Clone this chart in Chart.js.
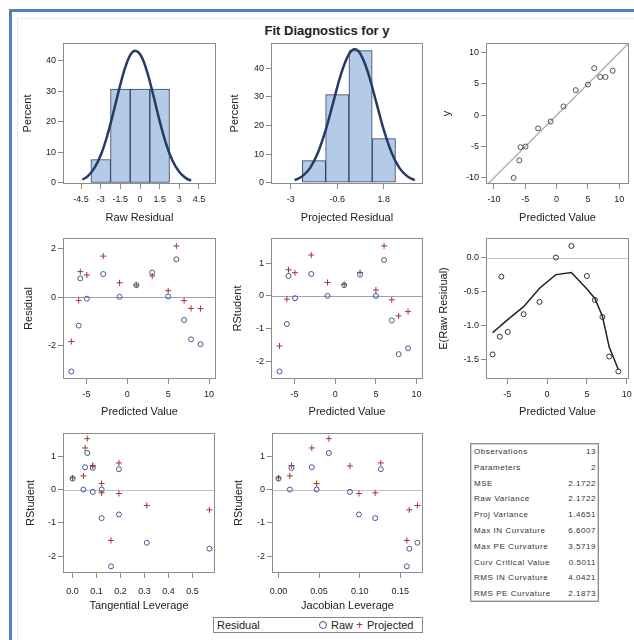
<!DOCTYPE html>
<html lang="en">
<head>
<meta charset="UTF-8">
<title>Fit Diagnostics for y</title>
<script src="https://cdn.jsdelivr.net/npm/chart.js@4.4.1/dist/chart.umd.min.js"></script>
<style>
  body { margin: 0; background: #fff; }
  #page { position: relative; width: 634px; height: 640px; overflow: hidden; background: #fff;
          font-family: "Liberation Sans", Arial, sans-serif; color: #222; }
  #page canvas { position: absolute; }
  .frame { position: absolute; left: 9px; top: 9px; width: 700px; height: 700px;
           border-left: 3px solid #4f81bd; border-top: 3px solid #4f81bd; }
  .inner { position: absolute; left: 17px; top: 18px; width: 700px; height: 700px;
           border-left: 1px solid #e8e8e8; border-top: 1px solid #e8e8e8; }
  #title { position: absolute; left: 0; width: 654px; top: 23px; text-align: center;
           font-weight: bold; font-size: 13px; line-height: 16px; }
  #stats { position: absolute; left: 470px; top: 443px; width: 127px; height: 157px;
           border: 1px solid #8c8c8c; box-shadow: inset 0 0 0 1px #d4d4d4; }
  #stats div { display: flex; justify-content: space-between; height: 15.8px; line-height: 15.8px;
               padding: 0 2px 0 3px; font-size: 8px; letter-spacing: 0.55px; color: #333; }
  #legend { position: absolute; left: 213px; top: 617px; width: 208px; height: 14px;
            border: 1px solid #888; font-size: 11px; line-height: 14px; }
  #legend span { position: absolute; top: 0; }
</style>
</head>
<body>
<div id="page">
  <div class="frame"></div>
  <div class="inner"></div>
  <div id="title">Fit Diagnostics for y</div>
  <div id="stats"></div>
  <div id="legend">
    <span style="left:3px">Residual</span>
    <span style="left:105px;top:3px;width:6px;height:6px;border:1px solid #445694;border-radius:50%"></span>
    <span style="left:117px">Raw</span>
    <span style="left:142px;color:#a23a2e;font-size:12px">+</span>
    <span style="left:153px">Projected</span>
  </div>
</div>
<script>
// histogram of raw residuals (percent of 13 obs)
const rawBins = [-3, -1.5, 0, 1.5];
const rawPct = [7.69, 30.77, 30.77, 30.77];
const rawCurveX = [-4.4, -4, -3.5, -3, -2.5, -2, -1.5, -1, -0.5, 0, 0.5, 1, 1.5, 2, 2.5, 3, 3.5, 3.9];
const rawCurveY = [1.1, 2.2, 4.8, 9.1, 15.5, 23.7, 32.3, 39.5, 43.2, 42.2, 37.0, 29.0, 20.3, 12.7, 7.1, 3.6, 1.6, 0.8];

// histogram of projected residuals
const projBins = [-1.8, -0.6, 0.6, 1.8];
const projPct = [7.69, 30.77, 46.15, 15.38];
const projCurveX = [-2.8, -2.4, -2, -1.6, -1.2, -0.8, -0.4, 0, 0.3, 0.6, 1, 1.4, 1.8, 2.2, 2.6, 3, 3.4];
const projCurveY = [0.9, 2.3, 5.2, 10.5, 18.4, 28.3, 38.1, 44.9, 46.6, 44.9, 38.1, 28.3, 18.4, 10.5, 5.2, 2.3, 0.9];

// per observation values
const predicted = [-6.85, -5.95, -5.75, -4.95, -2.95, -0.95, 1.1, 3.05, 5.0, 6.0, 6.95, 7.8, 8.95];
const observed = [-10, -7.2, -5.1, -5.0, -2.1, -1.0, 1.4, 4.0, 4.9, 7.5, 6.1, 6.1, 7.1];
const rawResid = [-3.07, -1.17, 0.78, -0.06, 0.96, 0.02, 0.5, 1.02, 0.03, 1.57, -0.94, -1.74, -1.94];
const projResid = [-1.83, -0.13, 1.06, 0.92, 1.7, 0.6, 0.5, 0.88, 0.27, 2.12, -0.14, -0.46, -0.47];
const rawRStudent = [-2.31, -0.86, 0.61, -0.07, 0.67, 0.0, 0.33, 0.65, 0.0, 1.1, -0.75, -1.78, -1.6];
const projRStudent = [-1.53, -0.1, 0.8, 0.71, 1.25, 0.41, 0.35, 0.72, 0.18, 1.53, -0.12, -0.61, -0.48];
const expRawResid = [-1.42, -1.16, -0.28, -1.09, -0.83, -0.65, 0.0, 0.17, -0.27, -0.62, -0.87, -1.45, -1.67];
const expRawCurve = [-1.1, -1.01, -0.99, -0.91, -0.72, -0.45, -0.25, -0.22, -0.46, -0.6, -0.86, -1.31, -1.64];
const tanLeverage = [0.16, 0.121, 0.193, 0.084, 0.052, 0.045, 0.0, 0.084, 0.121, 0.061, 0.193, 0.57, 0.309];
const jacLeverage = [0.158, 0.119, 0.126, 0.088, 0.041, 0.014, 0.0, 0.016, 0.047, 0.062, 0.099, 0.161, 0.171];

// tick labels
const rawResidTicks = [-4.5, -3, -1.5, 0, 1.5, 3, 4.5];
const projResidTicks = [-3, -0.6, 1.8];
const percentTicks = [0, 10, 20, 30, 40];
const fitTicks = [-10, -5, 0, 5, 10];
const predTicks = [-5, 0, 5, 10];
const residTicks = [-2, 0, 2];
const rstudTicks = [-2, -1, 0, 1];
const expTicks = [-1.5, -1, -0.5, 0];
const tanTicks = [0, 0.1, 0.2, 0.3, 0.4, 0.5];
const jacTicks = [0, 0.05, 0.1, 0.15];

// fit statistics
const statLabels = ['Observations', 'Parameters', 'MSE', 'Raw Variance', 'Proj Variance', 'Max IN Curvature',
  'Max PE Curvature', 'Curv Critical Value', 'RMS IN Curvature', 'RMS PE Curvature'];
const statValues = ['13', '2', '2.1722', '2.1722', '1.4651', '6.6007', '3.5719', '0.5011', '4.0421', '2.1873'];

const stats = document.getElementById('stats');
statLabels.forEach((l, i) => {
  const row = document.createElement('div');
  row.innerHTML = '<span>' + l + '</span><span>' + statValues[i] + '</span>';
  stats.appendChild(row);
});

Chart.defaults.font.family = '"Liberation Sans", Arial, sans-serif';
Chart.defaults.color = '#222';
Chart.defaults.plugins.legend.display = false;
Chart.defaults.plugins.tooltip.enabled = false;

const RAW = '#445694', PROJ = '#a23a2e';
const PAD = 8;

const pts = (xs, ys) => xs.map((v, i) => ({ x: v, y: ys[i] }));

// box outline and reference lines
const framePlugin = {
  id: 'frame',
  beforeDatasetsDraw(chart, args, opts) {
    const { ctx, chartArea: a, scales: { x, y } } = chart;
    ctx.save();
    ctx.beginPath();
    ctx.rect(a.left, a.top, a.width, a.height);
    ctx.clip();
    ctx.strokeStyle = opts.refColor || '#aaa';
    ctx.lineWidth = opts.refWidth || 1;
    if (opts.refY !== undefined) {
      const py = Math.round(y.getPixelForValue(opts.refY)) + 0.5;
      ctx.beginPath();
      ctx.moveTo(a.left, py);
      ctx.lineTo(a.right, py);
      ctx.stroke();
    }
    if (opts.diagonal) {
      const lo = Math.max(x.min, y.min), hi = Math.min(x.max, y.max);
      ctx.beginPath();
      ctx.moveTo(x.getPixelForValue(lo), y.getPixelForValue(lo));
      ctx.lineTo(x.getPixelForValue(hi), y.getPixelForValue(hi));
      ctx.stroke();
    }
    ctx.restore();
  },
  afterDraw(chart) {
    const { ctx, chartArea: a } = chart;
    ctx.save();
    ctx.strokeStyle = '#8c8c8c';
    ctx.lineWidth = 1;
    ctx.strokeRect(Math.round(a.left) + 0.5, Math.round(a.top) + 0.5, Math.round(a.width) - 1, Math.round(a.height) - 1);
    ctx.restore();
  }
};

function axis(min, max, ticks, dec, title, size, pad) {
  return {
    type: 'linear', min: min, max: max, bounds: 'data', offset: false,
    afterBuildTicks: s => { s.ticks = ticks.map(v => ({ value: v })); },
    afterFit: s => { if (s.isHorizontal()) s.height = size; else s.width = size; },
    grid: { drawOnChartArea: false, drawTicks: true, tickLength: 5, color: '#8c8c8c', offset: false },
    border: { display: false },
    ticks: { autoSkip: false, maxRotation: 0, padding: pad, font: { size: 9 }, color: '#222',
             callback: v => dec === null ? String(v) : v.toFixed(dec) },
    title: { display: true, text: title, font: { size: 11 }, color: '#222', padding: { top: 4, bottom: 4 } }
  };
}

function panel(box, config, frame) {
  const c = document.createElement('canvas');
  const w = box.yw + box.r - box.l + PAD, h = PAD + box.b - box.t + box.xh;
  c.width = w; c.height = h;
  c.style.left = (box.l - box.yw) + 'px';
  c.style.top = (box.t - PAD) + 'px';
  c.style.width = w + 'px';
  c.style.height = h + 'px';
  document.getElementById('page').appendChild(c);
  config.options.responsive = false;
  config.options.animation = false;
  config.options.events = [];
  config.options.layout = { padding: { left: 0, top: PAD, right: PAD, bottom: 0 } };
  config.options.plugins = { frame: frame || {} };
  config.plugins = [framePlugin];
  return new Chart(c, config);
}

function histogram(bins, pct, cx, cy) {
  return [
    { type: 'line', data: pts(cx, cy), borderColor: '#253a64', borderWidth: 2.5, pointRadius: 0, tension: 0.4, order: 0 },
    { type: 'bar', data: pts(bins, pct), backgroundColor: '#b3cbe6', borderColor: '#34435a', borderWidth: 1,
      borderSkipped: false, barPercentage: 1, categoryPercentage: 1, order: 1 }
  ];
}

const rawSet = (xs, ys) => ({ data: pts(xs, ys), pointStyle: 'circle', pointRadius: 2.5, borderColor: RAW,
  backgroundColor: 'rgba(0,0,0,0)', pointBorderWidth: 1 });
const projSet = (xs, ys) => ({ data: pts(xs, ys), pointStyle: 'cross', pointRadius: 3, borderColor: PROJ,
  pointBorderWidth: 1 });

// row 1
panel({ l: 63, t: 43, r: 216, b: 184, yw: 46, xh: 45 }, {
  type: 'bar',
  data: { datasets: histogram(rawBins, rawPct, rawCurveX, rawCurveY) },
  options: { scales: {
    x: axis(-5.88, 5.8, rawResidTicks, null, 'Raw Residual', 45, 5),
    y: axis(-0.33, 45.9, percentTicks, 0, 'Percent', 46, 2) } }
});

panel({ l: 271, t: 43, r: 423, b: 184, yw: 47, xh: 45 }, {
  type: 'bar',
  data: { datasets: histogram(projBins, projPct, projCurveX, projCurveY) },
  options: { scales: {
    x: axis(-4.02, 3.82, projResidTicks, null, 'Projected Residual', 45, 5),
    y: axis(-0.45, 48.8, percentTicks, 0, 'Percent', 47, 2) } }
});

panel({ l: 486, t: 43, r: 629, b: 184, yw: 50, xh: 45 }, {
  type: 'scatter',
  data: { datasets: [{ data: pts(predicted, observed), pointStyle: 'circle', pointRadius: 2.5, borderColor: '#505050',
    backgroundColor: 'rgba(0,0,0,0)', pointBorderWidth: 1 }] },
  options: { scales: {
    x: axis(-11.26, 11.55, fitTicks, 0, 'Predicted Value', 45, 5),
    y: axis(-10.98, 11.53, fitTicks, 0, 'y', 50, 2) } }
}, { diagonal: true, refColor: '#b4b4b4', refWidth: 1.5 });

// row 2
panel({ l: 63, t: 238, r: 216, b: 379, yw: 45, xh: 44 }, {
  type: 'scatter',
  data: { datasets: [rawSet(predicted, rawResid), projSet(predicted, projResid)] },
  options: { scales: {
    x: axis(-7.87, 10.85, predTicks, 0, 'Predicted Value', 44, 5),
    y: axis(-3.38, 2.45, residTicks, 0, 'Residual', 45, 2) } }
}, { refY: 0, refColor: '#9aa3b8' });

panel({ l: 271, t: 238, r: 423, b: 379, yw: 44, xh: 44 }, {
  type: 'scatter',
  data: { datasets: [rawSet(predicted, rawRStudent), projSet(predicted, projRStudent)] },
  options: { scales: {
    x: axis(-7.9, 10.79, predTicks, 0, 'Predicted Value', 44, 5),
    y: axis(-2.54, 1.77, rstudTicks, 0, 'RStudent', 44, 2) } }
}, { refY: 0, refColor: '#9aa3b8' });

panel({ l: 486, t: 238, r: 629, b: 379, yw: 53, xh: 44 }, {
  type: 'scatter',
  data: { datasets: [
    { data: pts(predicted, expRawCurve), showLine: true, pointRadius: 0, borderColor: '#222', borderWidth: 1.5 },
    { data: pts(predicted, expRawResid), pointStyle: 'circle', pointRadius: 2.5, borderColor: '#333',
      backgroundColor: 'rgba(0,0,0,0)', pointBorderWidth: 1 }] },
  options: { scales: {
    x: axis(-7.68, 10.29, predTicks, 0, 'Predicted Value', 44, 5),
    y: axis(-1.78, 0.287, expTicks, 1, 'E(Raw Residual)', 53, 2) } }
}, { refY: 0, refColor: '#c4c4c4' });

// row 3
panel({ l: 63, t: 433, r: 215, b: 573, yw: 43, xh: 44 }, {
  type: 'scatter',
  data: { datasets: [rawSet(tanLeverage, rawRStudent), projSet(tanLeverage, projRStudent)] },
  options: { scales: {
    x: axis(-0.04, 0.5933, tanTicks, 1, 'Tangential Leverage', 44, 8),
    y: axis(-2.51, 1.7, rstudTicks, 0, 'RStudent', 43, 2) } }
}, { refY: 0, refColor: '#bcc0cc' });

panel({ l: 272, t: 433, r: 423, b: 573, yw: 44, xh: 44 }, {
  type: 'scatter',
  data: { datasets: [rawSet(jacLeverage, rawRStudent), projSet(jacLeverage, projRStudent)] },
  options: { scales: {
    x: axis(-0.008, 0.1779, jacTicks, 2, 'Jacobian Leverage', 44, 8),
    y: axis(-2.51, 1.7, rstudTicks, 0, 'RStudent', 44, 2) } }
}, { refY: 0, refColor: '#bcc0cc' });
</script>
</body>
</html>
